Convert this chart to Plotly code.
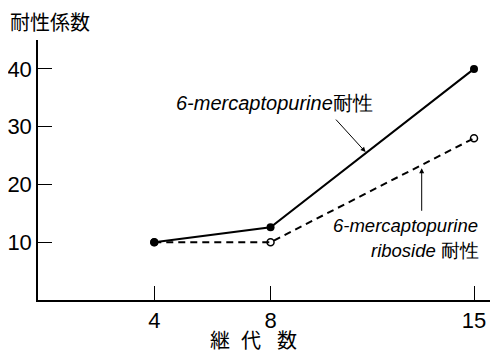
import plotly.graph_objects as go

passages = [4, 8, 15]
mp_resist = [10, 12.6, 40]
mpr_resist = [10, 10, 28]
x_ticks = [4, 8, 15]
y_ticks = [10, 20, 30, 40]

fnt = "Liberation Sans Narrow, Liberation Sans, Arial, sans-serif"
cjk = "Noto Sans CJK JP, sans-serif"

fig = go.Figure()
fig.add_trace(go.Scatter(x=passages, y=mpr_resist, mode="lines+markers",
                         line=dict(color="black", width=2, dash="7px,5px"),
                         marker=dict(symbol="circle-open", size=7, color="black", line=dict(width=1.5))))
fig.add_trace(go.Scatter(x=passages, y=mp_resist, mode="lines+markers",
                         line=dict(color="black", width=2),
                         marker=dict(symbol="circle", size=8, color="black")))

xtitle_chars = ["継", "代", "数"]
xtitle_pos = [0.4027, 0.4712, 0.5509]

annotations = [
    dict(text="耐性係数", xref="paper", yref="paper", x=-0.066, y=1.073, xanchor="left", yanchor="middle",
         showarrow=False, font=dict(family=cjk, size=20, color="black")),
    dict(text="<i>6-mercaptopurine</i>耐性", xref="paper", yref="paper", x=0.300, y=0.758,
         xanchor="left", yanchor="middle",
         showarrow=False, font=dict(family=fnt, size=20, color="black")),
    dict(text="<i>6-mercaptopurine</i>", xref="paper", yref="paper", x=0.648, y=0.288,
         xanchor="left", yanchor="middle",
         showarrow=False, font=dict(family=fnt, size=18.5, color="black")),
    dict(text="<i>riboside</i> 耐性", xref="paper", yref="paper", x=0.733, y=0.192,
         xanchor="left", yanchor="middle",
         showarrow=False, font=dict(family=fnt, size=18.5, color="black")),
    dict(text="", x=11.27, y=25.6, ax=-31, ay=-34, showarrow=True, arrowhead=2, arrowsize=1,
         arrowwidth=1, arrowcolor="black"),
    dict(text="", x=13.2, y=22.8, ax=0, ay=44, showarrow=True, arrowhead=2, arrowsize=1,
         arrowwidth=1, arrowcolor="black"),
]
for ch, px in zip(xtitle_chars, xtitle_pos):
    annotations.append(dict(text=ch, xref="paper", yref="paper", x=px, y=-0.150,
                            xanchor="center", yanchor="middle", showarrow=False,
                            font=dict(family=cjk, size=20, color="black")))

fig.update_layout(
    width=493, height=345,
    margin=dict(l=30, r=11, t=32, b=53, autoexpand=False),
    paper_bgcolor="white", plot_bgcolor="white",
    showlegend=False,
    xaxis=dict(range=[0, 15.55], tickvals=x_ticks, ticktext=[str(v) for v in x_ticks],
               ticks="inside", ticklen=14, tickwidth=1, tickcolor="black", automargin=False,
               showline=True, linecolor="black", linewidth=1.5, showgrid=False, zeroline=False,
               tickfont=dict(family=fnt, size=22, color="black")),
    yaxis=dict(range=[0, 45], tickvals=y_ticks, ticktext=[str(v) for v in y_ticks],
               ticks="inside", ticklen=14, tickwidth=1, tickcolor="black", automargin=False,
               showline=True, linecolor="black", linewidth=1.5, showgrid=False, zeroline=False,
               tickfont=dict(family=fnt, size=22, color="black")),
    annotations=annotations,
)
fig.write_html("out.html")
